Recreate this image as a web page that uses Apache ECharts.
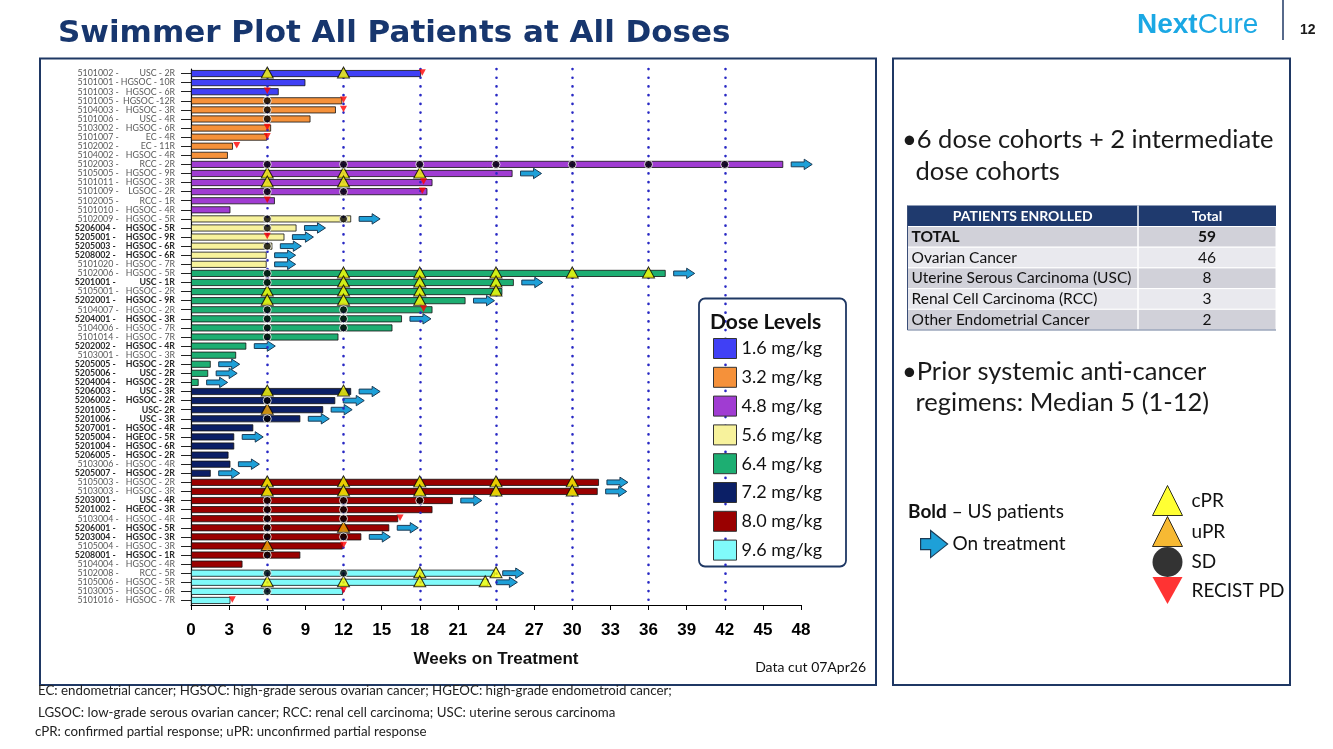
<!DOCTYPE html>
<html><head><meta charset="utf-8">
<script src="https://cdn.jsdelivr.net/npm/echarts@6/dist/echarts.min.js"></script>
<style>html,body{margin:0;padding:0;background:#fff}#c{width:1333px;height:749px}</style>
</head><body><div id="c"></div>
<script>
// ---------------- DATA ----------------
const patients = [
 '5101002 - USC - 2R','5101001 - HGSOC - 10R','5101003 - HGSOC - 6R',
 '5101005 - HGSOC -12R','5104003 - HGSOC - 3R','5101006 - USC - 4R','5103002 - HGSOC - 6R','5101007 - EC - 4R','5102002 - EC - 11R','5104002 - HGSOC - 4R',
 '5102003 - RCC - 2R','5105005 - HGSOC - 9R','5101011 - HGSOC - 3R','5101009 - LGSOC - 2R','5102005 - RCC - 1R','5101010 - HGSOC - 4R',
 '5102009 - HGSOC - 5R','5206004 - HGSOC - 5R','5205001 - HGSOC - 9R','5205003 - HGSOC - 6R','5208002 - HGSOC - 6R','5101020 - HGSOC - 7R',
 '5102006 - HGSOC - 5R','5201001 - USC - 1R','5105001 - HGSOC - 2R','5202001 - HGSOC - 9R','5104007 - HGSOC - 2R','5204001 - HGSOC - 3R','5104006 - HGSOC - 7R','5101014 - HGSOC - 7R','5202002 - HGSOC - 4R','5103001 - HGSOC - 3R','5205005 - HGSOC - 2R','5205006 - USC - 2R','5204004 - HGSOC - 2R',
 '5206003 - USC - 3R','5206002 - HGSOC - 2R','5201005 - USC- 2R','5201006 - USC - 3R','5207001 - HGSOC - 4R','5205004 - HGEOC - 5R','5201004 - HGSOC - 6R','5206005 - HGSOC - 2R','5103006 - HGSOC - 4R','5205007 - HGSOC - 2R',
 '5105003 - HGSOC - 2R','5103003 - HGSOC - 3R','5203001 - USC - 4R','5201002 - HGEOC - 3R','5103004 - HGSOC - 4R','5206001 - HGSOC - 5R','5203004 - HGSOC - 3R','5105004 - HGSOC - 3R','5208001 - HGSOC - 1R','5104004 - HGSOC - 4R',
 '5102008 - RCC - 5R','5105006 - HGSOC - 5R','5103005 - HGSOC - 6R','5101016 - HGSOC - 7R'
];
const usPatient = [
 0,0,0, 0,0,0,0,0,0,0, 0,0,0,0,0,0, 0,1,1,1,1,0,
 0,1,0,1,0,1,0,0,1,0,1,1,1, 1,1,1,1,1,1,1,1,0,1,
 0,0,1,1,0,1,1,0,1,0, 0,0,0,0
];
const doseLevels = ['1.6 mg/kg','3.2 mg/kg','4.8 mg/kg','5.6 mg/kg','6.4 mg/kg','7.2 mg/kg','8.0 mg/kg','9.6 mg/kg'];
const doseColors = ['#4040F5','#F5913A','#A03CD2','#F7F29C','#1DAE72','#0B1F66','#9A0000','#80FAFA'];
const doseOf = [
 0,0,0, 1,1,1,1,1,1,1, 2,2,2,2,2,2, 3,3,3,3,3,3,
 4,4,4,4,4,4,4,4,4,4,4,4,4, 5,5,5,5,5,5,5,5,5,5,
 6,6,6,6,6,6,6,6,6,6, 7,7,7,7
];
const weeksOnTreatment = [
 18.1, 9.0, 6.9,
 11.9, 11.4, 9.4, 6.3, 6.0, 3.3, 2.9,
 46.6, 25.3, 19.0, 18.6, 6.6, 3.1,
 12.6, 8.3, 7.35, 6.4, 5.95, 5.95,
 37.35, 25.4, 24.5, 21.6, 19.0, 16.6, 15.85, 11.6, 4.35, 3.55, 1.55, 1.35, 0.6,
 12.6, 11.35, 10.4, 8.6, 4.9, 3.4, 3.4, 2.95, 3.1, 1.55,
 32.1, 32.0, 20.6, 19.0, 16.3, 15.6, 13.4, 11.95, 8.6, 4.05,
 23.9, 23.4, 11.95, 3.1
];
const assessments = [
 'cPR:6 cPR:12 PD:18.2','','PD:6',
 'SD:6 PD:12','SD:6 PD:12','SD:6','PD:6','PD:6','PD:3.6','',
 'SD:6 SD:12 SD:18 SD:24 SD:30 SD:36 SD:42','cPR:6 cPR:12 cPR:18','cPR:6 cPR:12 PD:18.3','SD:6 SD:12 PD:18.2','PD:6','',
 'SD:6 SD:12','SD:6','PD:6','SD:6','','',
 'SD:6 cPR:12 cPR:18 cPR:24 cPR:30 cPR:36','SD:6 cPR:12 cPR:18 cPR:24','cPR:6 cPR:12 cPR:18 cPR:24','cPR:6 cPR:12 cPR:18','SD:6 SD:12 PD:18.3','SD:6 SD:12','SD:6 SD:12','SD:6','','','','','',
 'cPR:6 cPR:12','SD:6','uPR:6','SD:6','','','','','','',
 'cPR:6 cPR:12 cPR:18 cPR:24 cPR:30','cPR:6 cPR:12 cPR:18 cPR:24 cPR:30','SD:6 SD:12 SD:18','SD:6 SD:12','SD:6 SD:12 PD:16.45','SD:6 uPR:12','SD:6 SD:12','uPR:6 PD:12','SD:6','',
 'SD:6 SD:12 cPR:18 cPR:24','cPR:6 cPR:12 cPR:18 cPR:23.15','SD:6 PD:12','PD:3.25'
];
const onTreatment = [
 0,0,0, 0,0,0,0,0,0,0, 1,1,0,0,0,0, 1,1,1,1,1,1,
 1,1,0,1,0,1,0,0,1,0,1,1,1, 1,1,1,1,0,1,0,0,1,1,
 1,1,1,0,0,1,1,0,0,0, 1,1,0,0
];
const assessmentWeeks = [6, 12, 18, 24, 30, 36, 42];
const responseTypes = ['cPR','uPR','SD','RECIST PD'];
const tableHeader = ['PATIENTS ENROLLED','Total'];
const tableRows = [
 ['TOTAL','59'],['Ovarian Cancer','46'],['Uterine Serous Carcinoma (USC)','8'],
 ['Renal Cell Carcinoma (RCC)','3'],['Other Endometrial Cancer','2']
];
const footnotes = [
 'EC: endometrial cancer; HGSOC: high-grade serous ovarian cancer; HGEOC: high-grade endometroid cancer;',
 'LGSOC: low-grade serous ovarian cancer; RCC: renal cell carcinoma; USC: uterine serous carcinoma',
 'cPR: confirmed partial response; uPR: unconfirmed partial response'
];

// ---------------- BUILD ----------------
const codeMap = {cPR:'cPR', uPR:'uPR', SD:'SD', PD:'RECIST PD'};
const marks = {cPR:[], uPR:[], SD:[], 'RECIST PD':[]};
assessments.forEach((s, i) => {
  s.split(' ').filter(Boolean).forEach(t => {
    const [k, w] = t.split(':');
    marks[codeMap[k]].push([+w, i]);
  });
});
const arrowData = [];
onTreatment.forEach((f, i) => { if (f) arrowData.push([weeksOnTreatment[i], i]); });

const PD_PATH = 'path://M0,0L10,0L5,9Z';
const ARROW_ICON = 'path://M0,8L10,8L10,0L27,13.5L10,27L10,19L0,19Z';
const NAVY = '#1F3864';
const CAL = 'Lato';

const barSeries = doseLevels.map((d, j) => ({
  type: 'bar', name: d, z: 2, barWidth: 7, barGap: '-100%',
  itemStyle: {color: doseColors[j], borderColor: '#111', borderWidth: 0.8},
  data: weeksOnTreatment.map((w, i) => doseOf[i] === j ? w : '-')
}));

const scatterStyle = {
  'cPR': {symbol: 'triangle', symbolSize: [12, 11], symbolOffset: [0, -1], itemStyle: {color: '#FFFF00', borderColor: '#000', borderWidth: 1}},
  'uPR': {symbol: 'triangle', symbolSize: [12, 11], symbolOffset: [0, -1], itemStyle: {color: '#F5A800', borderColor: '#000', borderWidth: 1}},
  'SD': {symbol: 'circle', symbolSize: 8, itemStyle: {color: '#000', borderColor: '#fff', borderWidth: 1}},
  'RECIST PD': {symbol: PD_PATH, symbolSize: [7, 6.5], symbolOffset: [0, -1], itemStyle: {color: '#FF0000'}}
};
const scatterSeries = responseTypes.map(r => Object.assign({
  type: 'scatter', name: r, z: 5, data: marks[r]
}, scatterStyle[r]));

const arrowSeries = {
  type: 'custom', name: 'On treatment', z: 4, data: arrowData, encode: {x: 0, y: 1},
  itemStyle: {color: '#1EA0D8'},
  renderItem: (params, api) => {
    const p = api.coord([api.value(0), api.value(1)]);
    const x = p[0] + 8, y = p[1], L = 21, hl = 8, bh = 2.4, hh = 5.2;
    return {type: 'polygon', shape: {points: [[x, y - bh], [x + L - hl, y - bh], [x + L - hl, y - hh], [x + L, y], [x + L - hl, y + hh], [x + L - hl, y + bh], [x, y + bh]]},
      style: {fill: '#1EA0D8', stroke: '#1B3B55', lineWidth: 1}};
  }
};

const gridLineSeries = {
  type: 'line', name: 'grid', data: [], z: 3, silent: true,
  markLine: {symbol: ['none', 'none'], silent: true, animation: false, label: {show: false},
    lineStyle: {color: '#2828C4', width: 2.6, type: [0.1, 8.6], cap: 'round'},
    data: assessmentWeeks.map(w => ({xAxis: w}))}
};

// graphic elements
const g = [];
g.push({type: 'text', z: 10, style: {x: 58, y: 34, text: 'Swimmer Plot All Patients at All Doses', font: 'bold 31px "DejaVu Sans"', fill: '#17366E', verticalAlign: 'middle'}});
g.push({type: 'text', z: 10, style: {x: 1137, y: 25, text: '{n|Next}{c|Cure}', verticalAlign: 'middle',
  rich: {n: {font: 'bold 28px "Liberation Sans"', fill: '#1BA8E4', color: '#1BA8E4'}, c: {font: '28px "Liberation Sans"', fill: '#1BA8E4', color: '#1BA8E4'}}}});
g.push({type: 'line', z: 10, shape: {x1: 1283, y1: 0, x2: 1283, y2: 40}, style: {stroke: NAVY, lineWidth: 1.5}});
g.push({type: 'text', z: 10, style: {x: 1300, y: 30, text: '12', font: 'bold 14px "Liberation Sans"', fill: '#1a1a1a', verticalAlign: 'middle'}});
g.push({type: 'rect', z: 1, shape: {x: 40, y: 58.5, width: 836, height: 626.5}, style: {fill: 'none', stroke: NAVY, lineWidth: 2}});
g.push({type: 'rect', z: 1, shape: {x: 893, y: 58.5, width: 397, height: 626.5}, style: {fill: 'none', stroke: NAVY, lineWidth: 2}});
// dose legend box
g.push({type: 'rect', z: 5, shape: {x: 699, y: 298.5, width: 147, height: 268, r: 6}, style: {fill: '#fff', stroke: NAVY, lineWidth: 1.8}});
g.push({type: 'text', z: 7, style: {x: 710, y: 322, text: 'Dose Levels', font: 'bold 21px ' + CAL, fill: '#111', verticalAlign: 'middle'}});
g.push({type: 'text', z: 7, style: {x: 866, y: 667, text: 'Data cut 07Apr26', font: '14px ' + CAL, fill: '#111', align: 'right', verticalAlign: 'middle'}});
// right panel
const bullets = [
  ['\u20226 dose cohorts + 2 intermediate', 902, 140], [' dose cohorts', 909, 172],
  ['\u2022Prior systemic anti-cancer', 902, 372], [' regimens: Median 5 (1-12)', 909, 403]
];
bullets.forEach(b => g.push({type: 'text', z: 10, style: {x: b[1], y: b[2], text: b[0], font: '25.5px ' + CAL, fill: '#1a1a1a', verticalAlign: 'middle'}}));
// table
const tx0 = 907.5, tx1 = 1276, tdiv = 1138, ty0 = 205.5, th = 21, rh = 20.7;
g.push({type: 'rect', z: 10, shape: {x: tx0, y: ty0, width: tx1 - tx0, height: th}, style: {fill: '#1F3A6E'}});
g.push({type: 'text', z: 11, style: {x: (tx0 + tdiv) / 2, y: ty0 + th / 2, text: tableHeader[0], font: 'bold 14px ' + CAL, fill: '#fff', align: 'center', verticalAlign: 'middle'}});
g.push({type: 'text', z: 11, style: {x: (tdiv + tx1) / 2, y: ty0 + th / 2, text: tableHeader[1], font: 'bold 14px ' + CAL, fill: '#fff', align: 'center', verticalAlign: 'middle'}});
tableRows.forEach((r, i) => {
  const y = ty0 + th + i * rh;
  g.push({type: 'rect', z: 10, shape: {x: tx0, y: y, width: tx1 - tx0, height: rh}, style: {fill: i % 2 === 0 ? '#D1D1D9' : '#E9E9EE', stroke: '#fff', lineWidth: 1}});
  const f = (i === 0 ? 'bold ' : '') + '15.5px ' + CAL;
  g.push({type: 'text', z: 11, style: {x: tx0 + 4, y: y + rh / 2, text: r[0], font: f, fill: '#111', verticalAlign: 'middle'}});
  g.push({type: 'text', z: 11, style: {x: (tdiv + tx1) / 2, y: y + rh / 2, text: r[1], font: f, fill: '#111', align: 'center', verticalAlign: 'middle'}});
});
g.push({type: 'line', z: 12, shape: {x1: tdiv, y1: ty0, x2: tdiv, y2: ty0 + th + 5 * rh}, style: {stroke: '#fff', lineWidth: 1.5}});
g.push({type: 'line', z: 12, shape: {x1: tx0, y1: ty0, x2: tx0, y2: ty0 + th + 5 * rh}, style: {stroke: '#3A4E78', lineWidth: 1}});
g.push({type: 'line', z: 12, shape: {x1: tx0, y1: ty0 + th + 5 * rh, x2: tx1, y2: ty0 + th + 5 * rh}, style: {stroke: '#6A7A99', lineWidth: 1.2}});
// bold note
g.push({type: 'text', z: 10, style: {x: 908, y: 512, text: '{b|Bold} \u2013 US patients', verticalAlign: 'middle',
  rich: {b: {font: 'bold 19px ' + CAL, fill: '#111', color: '#111'}}, font: '19px ' + CAL, fill: '#111'}});
// footnotes
[[38, 691], [38, 713], [35, 732]].forEach((p, i) => g.push({type: 'text', z: 10, style: {x: p[0], y: p[1], text: footnotes[i], font: '13.3px ' + CAL, fill: '#222', verticalAlign: 'middle'}}));

const option = {
  animation: false,
  backgroundColor: '#fff',
  grid: {left: 191, right: 532, top: 69, height: 536},
  xAxis: {
    type: 'value', min: 0, max: 48, interval: 3,
    axisLine: {show: true, lineStyle: {color: '#000', width: 1.2}},
    axisTick: {show: true, length: 5, lineStyle: {color: '#000'}},
    splitLine: {show: false},
    axisLabel: {fontFamily: 'Liberation Sans', fontWeight: 'bold', fontSize: 17, color: '#000', margin: 17},
    name: 'Weeks on Treatment', nameLocation: 'middle', nameGap: 46,
    nameTextStyle: {fontFamily: 'Liberation Sans', fontWeight: 'bold', fontSize: 17, color: '#111'}
  },
  yAxis: {
    type: 'category', inverse: true, data: patients,
    axisLine: {show: true, lineStyle: {color: '#000', width: 1.2}},
    axisTick: {show: true, alignWithLabel: true, length: 10, lineStyle: {color: '#222'}},
    axisLabel: {
      interval: 0, margin: 16,
      formatter: (v, i) => {
        const k = v.indexOf(' - ');
        const a = v.slice(0, k + 3), b = v.slice(k + 3);
        return usPatient[i] ? '{ab|' + a + '}{bb|' + b + '}' : '{a|' + a + '}{b|' + b + '}';
      },
      rich: {
        a: {fontFamily: CAL, fontSize: 8.8, color: '#5a5a5a'},
        b: {fontFamily: CAL, fontSize: 8.8, color: '#5a5a5a', width: 54, align: 'right'},
        ab: {fontFamily: CAL, fontSize: 8.8, color: '#2a2a2a', fontWeight: 'bold'},
        bb: {fontFamily: CAL, fontSize: 8.8, color: '#2a2a2a', fontWeight: 'bold', width: 57, align: 'right'}
      }
    }
  },
  legend: [
    {left: 708, top: 333, orient: 'vertical', itemWidth: 23, itemHeight: 20, itemGap: 7.8, selectedMode: false, z: 6,
      textStyle: {fontFamily: CAL, fontSize: 18, color: '#111', lineHeight: 20},
      data: doseLevels.map(n => ({name: n, icon: 'rect', itemStyle: {borderColor: '#333', borderWidth: 1}}))},
    {left: 1147, top: 480, orient: 'vertical', itemWidth: 30, itemHeight: 30, itemGap: 0, selectedMode: false, z: 6,
      textStyle: {fontFamily: CAL, fontSize: 19, color: '#111', padding: [0, 0, 0, 4]},
      data: [
        {name: 'cPR', icon: 'triangle', itemStyle: {color: '#FFFF00', borderColor: '#000', borderWidth: 1}},
        {name: 'uPR', icon: 'triangle', itemStyle: {color: '#F5A800', borderColor: '#000', borderWidth: 1}},
        {name: 'SD', icon: 'circle', itemStyle: {color: '#000', borderColor: '#000', borderWidth: 0}},
        {name: 'RECIST PD', icon: PD_PATH, itemStyle: {color: '#FF0000', borderWidth: 0}}
      ]},
    {left: 915, top: 525, itemWidth: 27, itemHeight: 27, selectedMode: false, z: 6,
      textStyle: {fontFamily: CAL, fontSize: 19, color: '#111'},
      data: [{name: 'On treatment', icon: ARROW_ICON, itemStyle: {color: '#1EA0D8', borderColor: '#1B3B55', borderWidth: 1.2}}]}
  ],
  graphic: g,
  series: [...barSeries, gridLineSeries, arrowSeries, ...scatterSeries]
};
const chart = echarts.init(document.getElementById('c'), null, {renderer: 'canvas'});
chart.setOption(option);
</script></body></html>
